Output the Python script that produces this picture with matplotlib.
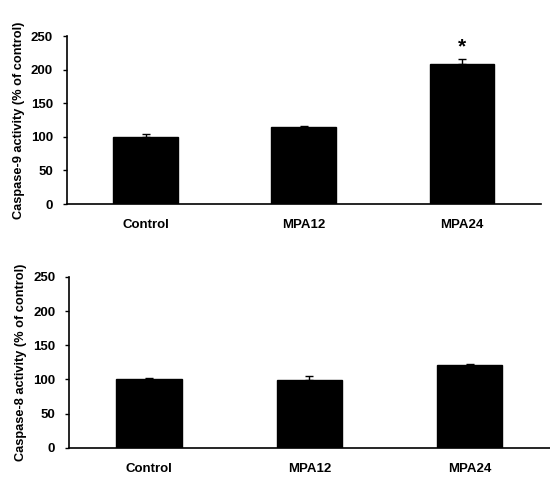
import matplotlib
matplotlib.use("Agg")
import matplotlib.pyplot as plt

plt.rcParams['font.family'] = ['Liberation Sans', 'DejaVu Sans']
plt.rcParams['font.weight'] = 'bold'

categories = ["Control", "MPA12", "MPA24"]
casp9_mean = [100, 114, 208]
casp9_err = [3.5, 2.5, 7.5]
casp9_sig = ["", "", "*"]
casp8_mean = [101, 98.5, 121]
casp8_err = [1, 6.5, 1]
yticks = [0, 50, 100, 150, 200, 250]

fig = plt.figure(figsize=(5.5, 4.86), dpi=100)
ax1 = fig.add_axes([0.1213, 0.5802, 0.8624, 0.3457])
ax2 = fig.add_axes([0.1255, 0.0788, 0.874, 0.3513])

def draw(ax, means, errs, ylabel, sig=None):
    x = list(range(len(categories)))
    ax.bar(x, means, width=0.41, color='black', edgecolor='black', zorder=2)
    ax.errorbar(x, means, yerr=[[0]*len(errs), errs], fmt='none', ecolor='black',
                elinewidth=1, capsize=2.8, capthick=1, zorder=3)
    ax.set_xlim(-0.5, len(categories) - 0.5)
    ax.set_ylim(0, 250)
    ax.set_yticks(yticks)
    ax.set_xticks(x)
    ax.set_xticklabels(categories, fontsize=9.5, fontweight='bold')
    ax.tick_params(axis='x', length=0, pad=11)
    ax.tick_params(axis='y', length=3, width=1, direction='out', pad=7, labelsize=9.5)
    for lab in ax.get_yticklabels():
        lab.set_fontweight('bold')
    for s in ['top', 'right']:
        ax.spines[s].set_visible(False)
    for s in ['left', 'bottom']:
        ax.spines[s].set_linewidth(1.2)
    ax.set_ylabel(ylabel, fontsize=9.2, fontweight='bold', labelpad=4)
    if sig:
        for xi, m, e, s in zip(x, means, errs, sig):
            if s:
                ax.annotate(s, (xi, m + e), xytext=(0, 2), textcoords='offset points',
                            ha='center', va='bottom', fontsize=15, fontweight='bold')

draw(ax1, casp9_mean, casp9_err, "Caspase-9 activity (% of control)", casp9_sig)
draw(ax2, casp8_mean, casp8_err, "Caspase-8 activity (% of control)")

fig.savefig("out.png", dpi=100)
